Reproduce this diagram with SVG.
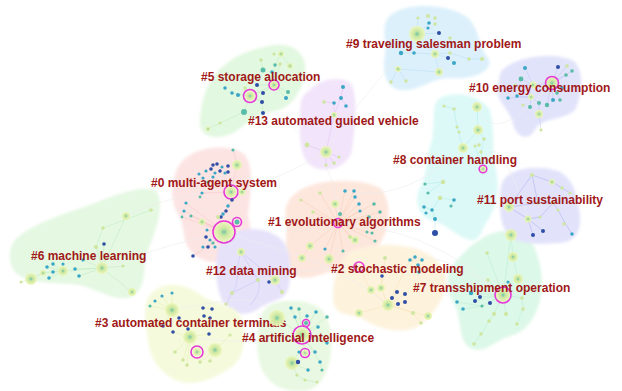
<svg xmlns="http://www.w3.org/2000/svg" width="622" height="391" viewBox="0 0 622 391">
<defs>
  <radialGradient id="yh">
    <stop offset="0" stop-color="#6fc3a6"/>
    <stop offset="0.35" stop-color="#c8e6a0"/>
    <stop offset="1" stop-color="#eef7b8" stop-opacity="0.9"/>
  </radialGradient>
  <filter id="soft" x="-10%" y="-10%" width="120%" height="120%">
    <feGaussianBlur stdDeviation="1.5"/>
  </filter>
  <style>
    .hull{filter:url(#soft)}
    .h{fill:url(#yh)}
    .t{fill:#3aa7c6}
    .b{fill:#2f4ea6}
    .g{fill:#58bca8}
    .y{fill:#cfe6a0}
    .m{fill:none;stroke:#e63ad6;stroke-width:1.6}
    .lbl{font-family:"Liberation Sans",Arial,sans-serif;font-weight:bold;font-size:12px;fill:#a01818}
    .e{fill:none;stroke-width:0.6;opacity:0.5}
    .bg{fill:none;stroke:#ececec;stroke-width:0.6}
  </style>
</defs>
<rect width="622" height="391" fill="#ffffff"/>

<!-- cluster hulls -->
<g id="hulls">
  <path class="hull" fill="#dcf0fb" d="M392 14C410 2 450 4 468 18C480 30 478 45 488 58C495 70 475 80 450 78C430 78 420 92 400 90C385 88 382 70 385 55C388 40 378 25 392 14Z"/>
  <path class="hull" fill="#e1e3fa" d="M505 68C520 55 560 52 575 62C585 75 582 95 575 110C565 120 540 118 535 130C528 142 515 138 512 120C508 108 495 100 498 88C500 78 498 72 505 68Z"/>
  <path class="hull" fill="#dcf9f7" d="M440 98C455 90 480 95 490 110C495 130 492 150 495 165C500 185 498 205 488 220C480 232 480 242 470 240C455 236 445 222 430 220C418 215 414 200 420 188C428 175 425 160 432 140C436 120 430 105 440 98Z"/>
  <path class="hull" fill="#f2e4fa" d="M310 90C320 78 345 75 352 85C358 100 355 130 352 150C348 168 325 175 310 165C298 155 300 130 300 115C300 100 302 95 310 90Z"/>
  <path class="hull" fill="#e2f8e0" d="M215 75C230 55 255 48 275 45C295 43 308 55 305 75C300 95 290 110 270 112C255 115 245 125 235 132C220 140 198 140 200 120C202 100 205 88 215 75Z"/>
  <path class="hull" fill="#fce4e3" d="M190 155C205 145 235 145 245 155C255 170 250 195 248 215C252 235 255 250 240 258C225 265 200 265 190 250C182 240 185 228 180 218C172 205 170 190 175 175C178 165 182 160 190 155Z"/>
  <path class="hull" fill="#fde7dd" d="M300 190C320 178 360 178 380 188C392 200 390 225 382 240C375 255 360 262 340 268C320 275 300 285 290 270C282 255 288 235 286 220C284 205 288 198 300 190Z"/>
  <path class="hull" fill="#e4f8e2" d="M15 240C30 225 60 215 90 205C115 195 140 185 155 190C165 200 158 225 150 245C140 262 150 280 135 295C120 305 100 290 80 285C55 282 30 285 15 272C8 262 8 250 15 240Z"/>
  <path class="hull" fill="#e6e2fa" d="M230 235C245 225 270 228 282 240C292 252 292 275 288 290C283 302 270 300 260 308C245 318 228 315 222 300C215 285 215 265 218 250C220 242 224 238 230 235Z"/>
  <path class="hull" fill="#fdf3dd" d="M350 252C370 243 400 243 420 250C440 258 450 272 445 290C440 305 430 320 415 328C400 333 380 330 365 320C350 312 335 318 333 300C332 285 338 260 350 252Z"/>
  <path class="hull" fill="#dcf8e8" d="M480 240C495 228 520 228 530 240C540 255 545 280 540 300C535 320 525 332 510 336C495 340 485 355 470 348C458 340 462 320 455 305C446 292 445 275 455 262C465 252 470 245 480 240Z"/>
  <path class="hull" fill="#e2e3fb" d="M505 178C515 166 545 165 560 172C575 180 578 200 580 215C582 230 575 242 560 243C545 244 530 245 515 240C502 232 500 218 500 205C500 192 500 184 505 178Z"/>
  <path class="hull" fill="#f6fadc" d="M155 290C170 280 190 285 205 298C220 305 238 305 242 320C246 340 245 358 230 368C215 378 195 388 175 380C160 372 150 360 148 340C146 320 140 300 155 290Z"/>
  <path class="hull" fill="#e8f8e2" d="M270 305C285 298 310 300 322 310C332 322 333 345 330 360C326 375 320 391 300 391C282 391 270 385 262 370C256 355 256 335 260 320C262 312 265 308 270 305Z"/>
</g>

<!-- links -->
<g id="connectors">
  <path class="bg" d="M250 96C300 130 340 160 338 223M224 232C280 250 330 260 388 305M172 310C230 300 260 290 277 318M102 268C150 250 190 240 224 232M231 192C280 180 310 160 326 152M417 34C380 80 350 110 326 152M552 83C520 120 490 140 477 107M503 295C470 270 430 250 410 260M338 223C400 230 440 240 503 295M463 148C430 180 390 200 345 191M190 337C240 345 270 340 302 335M528 219C510 160 490 130 483 169M258 280C300 270 330 268 359 267M126 216C160 200 190 195 202 193"/>
  <path class="e" stroke="#9fd0ee" d="M417 34L429 23M417 34L418 18M417 34L439 33M417 34L435 54M435 54L450 53M435 54L448 58M448 58L454 63M450 53L469 59M469 59L482 59M435 54L439 72M401 53L414 53M414 53L435 54M398 69L391 82M398 69L406 81M439 72L398 69"/>
  <path class="e" stroke="#a8b0ea" d="M552 83L558 67M552 83L567 66M552 83L572 71M552 83L566 75M552 83L533 85M533 85L525 68M533 85L521 79M533 85L515 85M531 97L517 96M531 97L508 98M531 97L539 103M552 83L547 105M552 83L553 100M552 83L560 100M552 83L562 88M539 103L539 114M539 114L541 130M531 97L530 107"/>
  <path class="e" stroke="#8fdedb" d="M477 107L478 130M478 130L484 139M478 130L463 148M463 148L457 127M457 127L454 109M454 109L444 106M484 139L481 152M481 152L483 169M483 169L475 146M443 182L425 184M443 182L428 193M440 198L454 200M454 200L451 206M440 198L432 210M432 210L424 207M432 210L435 219M435 219L435 233"/>
  <path class="e" stroke="#d7a8ea" d="M326 152L334 115M334 115L341 98M341 98L343 87M341 98L346 106M334 115L334 103M326 152L334 163M326 152L339 157M326 152L326 165M326 152L307 145M334 103L324 102"/>
  <path class="e" stroke="#a8e0a8" d="M250 96L274 85M274 85L275 65M274 85L280 64M274 85L272 72M274 85L288 92M274 85L286 98M274 85L263 93M274 85L257 85M250 96L238 95M250 96L232 93M250 96L244 112M244 112L220 123M220 123L208 129M250 96L262 102M262 102L263 113M275 65L281 54M281 54L290 66M263 70L261 60"/>
  <path class="e" stroke="#f3b0ad" d="M231 192L237 165M237 165L233 150M231 192L242 192M231 192L202 193M231 192L232 200M232 200L228 206M228 206L226 211M226 211L223 214M223 214L221 217M224 232L237 222M224 232L202 222M224 232L186 203M224 232L184 211M224 232L191 216M224 232L182 217M224 232L218 217M224 232L207 230M224 232L213 243M224 232L208 247M213 243L193 256M231 192L213 177"/>
  <path class="e" stroke="#f5b890" d="M338 223L335 204M338 223L345 191M338 223L354 191M338 223L355 197M338 223L359 204M338 223L374 204M338 223L380 212M338 223L360 211M338 223L369 217M338 223L340 214M338 223L320 193M338 223L301 200M338 223L313 212M338 223L355 240M338 223L350 237M338 223L310 246M338 223L329 259M338 223L325 249M338 223L343 251M338 223L367 232M338 223L375 241M310 246L302 258"/>
  <path class="e" stroke="#a8e0a8" d="M102 268L126 216M102 268L96 247M96 247L103 228M103 228L151 210M102 268L132 292M102 268L123 266M102 268L63 271M63 271L43 273M43 273L31 279M31 279L21 282M63 271L47 267M63 271L53 264M63 271L53 272M63 271L49 278M63 271L63 264M102 268L75 269M102 268L79 276M102 268L83 260M102 268L104 244"/>
  <path class="e" stroke="#b4a8ee" d="M241 252L258 280M258 280L232 293M232 293L226 304M241 252L275 280M275 280L282 292M275 280L269 282M241 252C235 270 240 285 232 293M258 280C262 290 255 300 250 305"/>
  <path class="e" stroke="#f0d49a" d="M388 305L371 290M388 305L381 288M388 305L359 313M388 305L428 316M388 305L413 313M413 313L421 323M388 305L397 292M388 305L405 294M388 305L392 298M388 305L405 302M388 305L398 304M381 288L385 258M381 288L382 276M388 305L410 260M410 260L415 257M410 260L422 260M410 260L418 265M418 265L419 272M371 290L359 267"/>
  <path class="e" stroke="#9ee4c0" d="M503 295L511 235M511 235L513 257M513 257L518 279M503 295L471 293M503 295L480 297M503 295L475 301M503 295L490 303M503 295L482 306M482 306L457 302M482 306L463 309M503 295L487 253M503 295L488 280M503 295L508 282M503 295L522 298M522 298L523 309M503 295L506 314M503 295L494 314M494 314L489 321M489 321L481 334M481 334L474 344M523 309L517 324"/>
  <path class="e" stroke="#7d86de" d="M509 207L532 175M532 175L552 182M552 182L562 188M562 188L570 193M509 207L528 219M528 219L533 235M528 219L543 231M509 207L538 203M538 203L553 203M553 203L558 210M558 210L565 223M565 223L572 234M528 219L540 217M540 217L553 203M532 175L538 203"/>
  <path class="e" stroke="#d8e890" d="M172 310L155 301M172 310L162 296M172 310L172 293M172 310L150 306M172 310L163 326M172 310L179 318M190 337L188 329M190 337L173 332M190 337L209 334M190 337L175 352M190 337L183 360M190 337L187 365M215 350L210 361M215 350L200 362M215 350L230 335M197 352L190 337M203 308L212 309M204 316L210 318"/>
  <path class="e" stroke="#a8e0a8" d="M302 335L277 318M302 335L306 323M302 335L305 353M302 335L291 308M302 335L295 317M302 335L299 309M302 335L307 316M302 335L316 312M302 335L327 317M302 335L318 327M302 335L327 343M302 335L315 352M302 335L320 362M292 363L308 370M292 363L298 362M292 363L299 352M292 363L297 375M297 375L305 380M305 380L317 382M320 362L322 370"/>
</g>

<!-- #9 traveling salesman problem -->
<g id="cluster-9">
  <circle class="h" cx="417" cy="34" r="8"/>
  <circle class="t" cx="429" cy="23" r="1.8"/><circle class="t" cx="428" cy="28" r="1.6"/>
  <circle class="b" cx="439" cy="33" r="2"/><circle class="y" cx="450" cy="38" r="1.8"/>
  <circle class="y" cx="418" cy="18" r="1.6"/><circle class="y" cx="428" cy="16" r="2"/>
  <circle class="y" cx="435" cy="18" r="1.8"/><circle class="y" cx="435" cy="24" r="1.8"/>
  <circle class="t" cx="401" cy="53" r="2.2"/><circle class="t" cx="414" cy="53" r="1.8"/>
  <circle class="h" cx="435" cy="54" r="4"/><circle class="y" cx="450" cy="53" r="1.8"/>
  <circle class="b" cx="448" cy="58" r="2"/><circle class="t" cx="454" cy="63" r="2"/>
  <circle class="y" cx="469" cy="59" r="1.8"/><circle class="y" cx="482" cy="59" r="2"/>
  <circle class="h" cx="439" cy="72" r="4"/><circle class="h" cx="398" cy="69" r="3"/>
  <circle class="y" cx="391" cy="82" r="1.8"/><circle class="y" cx="406" cy="81" r="1.8"/>
  <text class="lbl" x="346" y="48">#9 traveling salesman problem</text>
</g>

<!-- #10 energy consumption -->
<g id="cluster-10">
  <circle class="h" cx="552" cy="83" r="6"/><circle class="m" cx="552" cy="83" r="6.5"/>
  <circle class="b" cx="558" cy="67" r="2"/><circle class="y" cx="567" cy="66" r="1.8"/>
  <circle class="g" cx="572" cy="71" r="1.8"/><circle class="g" cx="566" cy="75" r="1.8"/>
  <circle class="t" cx="525" cy="68" r="2"/><circle class="g" cx="521" cy="79" r="2.4"/>
  <circle class="y" cx="515" cy="85" r="1.6"/><circle class="t" cx="508" cy="98" r="1.8"/>
  <circle class="t" cx="517" cy="96" r="1.8"/><circle class="h" cx="533" cy="85" r="3.5"/>
  <circle class="h" cx="531" cy="97" r="3"/><circle class="h" cx="539" cy="114" r="4"/>
  <circle class="g" cx="539" cy="103" r="2"/><circle class="g" cx="547" cy="105" r="2.2"/>
  <circle class="t" cx="553" cy="100" r="2"/><circle class="g" cx="560" cy="100" r="1.8"/>
  <circle class="g" cx="557" cy="93" r="1.8"/><circle class="t" cx="562" cy="88" r="1.8"/>
  <circle class="g" cx="530" cy="107" r="2"/><circle class="y" cx="523" cy="105" r="1.6"/>
  <circle class="y" cx="541" cy="130" r="1.6"/>
  <text class="lbl" x="469" y="92">#10 energy consumption</text>
</g>

<!-- #8 container handling -->
<g id="cluster-8">
  <circle class="h" cx="477" cy="107" r="5"/><circle class="h" cx="478" cy="130" r="5"/>
  <circle class="h" cx="463" cy="148" r="5"/><circle class="y" cx="484" cy="139" r="1.8"/>
  <circle class="y" cx="479" cy="145" r="1.8"/><circle class="y" cx="481" cy="152" r="1.8"/>
  <circle class="y" cx="475" cy="146" r="1.6"/><circle class="h" cx="483" cy="169" r="3"/>
  <circle class="m" cx="483" cy="169" r="3.8"/>
  <circle class="y" cx="454" cy="109" r="1.8"/><circle class="y" cx="444" cy="106" r="1.6"/>
  <circle class="y" cx="457" cy="127" r="1.6"/><circle class="y" cx="459" cy="132" r="1.6"/>
  <circle class="g" cx="425" cy="184" r="1.6"/><circle class="y" cx="443" cy="182" r="2.2"/>
  <circle class="g" cx="428" cy="193" r="1.6"/><circle class="y" cx="440" cy="198" r="2.2"/>
  <circle class="t" cx="454" cy="200" r="1.8"/><circle class="g" cx="451" cy="206" r="1.6"/>
  <circle class="t" cx="424" cy="207" r="1.8"/><circle class="t" cx="432" cy="210" r="1.8"/>
  <circle class="t" cx="426" cy="213" r="1.6"/><circle class="t" cx="435" cy="219" r="2"/>
  <circle class="b" cx="435" cy="233" r="3"/>
  <text class="lbl" x="393" y="164">#8 container handling</text>
</g>

<!-- #13 automated guided vehicle -->
<g id="cluster-13">
  <circle class="h" cx="326" cy="152" r="6"/><circle class="t" cx="343" cy="87" r="2"/>
  <circle class="t" cx="341" cy="98" r="2"/><circle class="t" cx="346" cy="106" r="1.8"/>
  <circle class="t" cx="334" cy="103" r="1.8"/><circle class="h" cx="334" cy="115" r="3"/>
  <circle class="y" cx="324" cy="102" r="1.8"/><circle class="y" cx="334" cy="163" r="1.8"/>
  <circle class="y" cx="339" cy="157" r="1.6"/><circle class="y" cx="326" cy="165" r="1.6"/>
  <circle class="y" cx="307" cy="145" r="2.4"/>
  <text class="lbl" x="248" y="125">#13 automated guided vehicle</text>
</g>

<!-- #5 storage allocation -->
<g id="cluster-5">
  <circle class="h" cx="250" cy="96" r="5"/><circle class="m" cx="250" cy="96" r="6.5"/>
  <circle class="h" cx="274" cy="85" r="4"/><circle class="m" cx="274" cy="85" r="5"/>
  <circle class="g" cx="244" cy="112" r="3"/><circle class="b" cx="263" cy="93" r="2"/>
  <circle class="b" cx="262" cy="102" r="2"/><circle class="b" cx="263" cy="113" r="2"/>
  <circle class="b" cx="257" cy="85" r="2"/><circle class="g" cx="275" cy="65" r="1.8"/>
  <circle class="y" cx="280" cy="64" r="1.8"/><circle class="t" cx="272" cy="72" r="1.8"/>
  <circle class="g" cx="288" cy="92" r="2"/><circle class="t" cx="286" cy="98" r="2"/>
  <circle class="t" cx="238" cy="95" r="2"/><circle class="t" cx="232" cy="93" r="1.8"/>
  <circle class="t" cx="225" cy="88" r="1.8"/><circle class="y" cx="245" cy="88" r="1.8"/>
  <circle class="h" cx="281" cy="54" r="3"/><circle class="h" cx="290" cy="66" r="3"/>
  <circle class="g" cx="263" cy="70" r="2.5"/><circle class="y" cx="261" cy="60" r="1.8"/>
  <circle class="y" cx="274" cy="54" r="1.6"/><circle class="h" cx="208" cy="129" r="2.5"/>
  <circle class="y" cx="220" cy="123" r="1.6"/>
  <text class="lbl" x="201" y="81">#5 storage allocation</text>
</g>

<!-- #0 multi-agent system -->
<g id="cluster-0">
  <circle class="h" cx="237" cy="165" r="5"/><circle class="g" cx="233" cy="150" r="1.6"/>
  <circle class="b" cx="213" cy="165" r="1.8"/><circle class="b" cx="217" cy="164" r="1.8"/>
  <circle class="t" cx="222" cy="167" r="1.6"/><circle class="b" cx="228" cy="166" r="1.8"/>
  <circle class="t" cx="206" cy="171" r="1.6"/><circle class="b" cx="211" cy="169" r="1.8"/>
  <circle class="t" cx="215" cy="173" r="1.6"/><circle class="b" cx="220" cy="171" r="1.8"/>
  <circle class="t" cx="225" cy="173" r="1.6"/><circle class="b" cx="228" cy="172" r="1.8"/>
  <circle class="t" cx="199" cy="174" r="1.6"/><circle class="t" cx="203" cy="178" r="1.6"/>
  <circle class="g" cx="208" cy="182" r="1.6"/><circle class="t" cx="213" cy="177" r="1.6"/>
  <circle class="h" cx="231" cy="192" r="5.5"/><circle class="m" cx="231" cy="192" r="7"/>
  <circle class="h" cx="242" cy="192" r="3.5"/>
  <circle class="t" cx="202" cy="193" r="1.6"/><circle class="g" cx="200" cy="197" r="1.4"/>
  <circle class="b" cx="232" cy="200" r="1.8"/><circle class="t" cx="228" cy="206" r="1.8"/>
  <circle class="b" cx="226" cy="211" r="1.8"/><circle class="t" cx="223" cy="214" r="1.8"/>
  <circle class="b" cx="221" cy="217" r="1.8"/>
  <circle class="t" cx="186" cy="203" r="1.6"/><circle class="t" cx="184" cy="211" r="1.6"/>
  <circle class="g" cx="191" cy="216" r="1.6"/><circle class="g" cx="182" cy="217" r="1.4"/>
  <circle class="h" cx="202" cy="222" r="3.5"/><circle class="y" cx="218" cy="217" r="2"/>
  <circle class="g" cx="237" cy="222" r="2.5"/><circle class="m" cx="237" cy="222" r="4.5"/>
  <circle class="h" cx="224" cy="232" r="10"/><circle class="m" cx="224" cy="232" r="11"/>
  <circle class="t" cx="207" cy="230" r="1.6"/><circle class="b" cx="206" cy="237" r="1.8"/>
  <circle class="t" cx="210" cy="240" r="1.6"/><circle class="g" cx="213" cy="243" r="1.6"/>
  <circle class="b" cx="208" cy="247" r="1.8"/><circle class="t" cx="203" cy="247" r="1.6"/>
  <circle class="t" cx="215" cy="247" r="1.6"/><circle class="b" cx="193" cy="256" r="1.8"/>
  <text class="lbl" x="151" y="187">#0 multi-agent system</text>
</g>

<!-- #11 port sustainability -->
<g id="cluster-11">
  <circle class="y" cx="532" cy="175" r="2"/><circle class="h" cx="552" cy="182" r="3"/>
  <circle class="y" cx="562" cy="188" r="1.8"/><circle class="y" cx="570" cy="193" r="1.6"/>
  <circle class="h" cx="509" cy="207" r="5"/><circle class="h" cx="528" cy="219" r="3.5"/>
  <circle class="b" cx="533" cy="235" r="2"/><circle class="b" cx="543" cy="231" r="2"/>
  <circle class="t" cx="572" cy="234" r="1.8"/><circle class="y" cx="564" cy="224" r="1.8"/>
  <circle class="y" cx="540" cy="217" r="1.6"/><circle class="y" cx="538" cy="203" r="1.8"/>
  <circle class="y" cx="553" cy="203" r="1.8"/><circle class="y" cx="558" cy="210" r="1.6"/>
  <text class="lbl" x="477" y="204">#11 port sustainability</text>
</g>

<!-- #1 evolutionary algorithms -->
<g id="cluster-1">
  <circle class="h" cx="335" cy="204" r="4"/><circle class="h" cx="329" cy="259" r="5"/>
  <circle class="h" cx="310" cy="246" r="4"/><circle class="h" cx="302" cy="258" r="4"/>
  <circle class="h" cx="355" cy="240" r="4"/><circle class="y" cx="350" cy="237" r="2"/>
  <circle class="t" cx="345" cy="191" r="1.8"/><circle class="t" cx="354" cy="191" r="1.8"/>
  <circle class="t" cx="355" cy="197" r="1.8"/><circle class="t" cx="359" cy="204" r="1.8"/>
  <circle class="g" cx="374" cy="204" r="1.8"/><circle class="g" cx="380" cy="212" r="1.8"/>
  <circle class="t" cx="360" cy="211" r="1.6"/><circle class="g" cx="369" cy="217" r="1.8"/>
  <circle class="g" cx="340" cy="214" r="2"/><circle class="t" cx="325" cy="249" r="1.6"/>
  <circle class="g" cx="343" cy="251" r="1.6"/><circle class="g" cx="367" cy="232" r="1.6"/>
  <circle class="g" cx="375" cy="241" r="1.6"/><circle class="g" cx="372" cy="233" r="1.6"/>
  <circle class="y" cx="320" cy="193" r="1.8"/><circle class="y" cx="301" cy="200" r="1.6"/>
  <circle class="y" cx="313" cy="212" r="1.8"/>
  <circle class="m" cx="338" cy="223" r="4.5"/>
  <text class="lbl" x="268" y="226">#1 evolutionary algorithms</text>
</g>

<!-- #6 machine learning -->
<g id="cluster-6">
  <circle class="h" cx="102" cy="268" r="6"/><circle class="h" cx="63" cy="271" r="5"/>
  <circle class="h" cx="31" cy="279" r="6"/><circle class="h" cx="43" cy="273" r="3"/>
  <circle class="h" cx="126" cy="216" r="4"/><circle class="h" cx="132" cy="292" r="4"/>
  <circle class="y" cx="96" cy="247" r="2"/><circle class="y" cx="103" cy="228" r="1.8"/>
  <circle class="y" cx="151" cy="210" r="1.8"/>
  <circle class="t" cx="47" cy="267" r="1.8"/><circle class="t" cx="53" cy="264" r="1.8"/>
  <circle class="t" cx="53" cy="272" r="1.8"/><circle class="t" cx="49" cy="278" r="1.8"/>
  <circle class="t" cx="63" cy="264" r="1.6"/><circle class="t" cx="75" cy="269" r="1.8"/>
  <circle class="t" cx="79" cy="276" r="1.8"/><circle class="t" cx="83" cy="260" r="1.6"/>
  <circle class="b" cx="104" cy="244" r="1.8"/><circle class="y" cx="21" cy="282" r="1.6"/>
  <circle class="y" cx="123" cy="266" r="1.6"/>
  <text class="lbl" x="31" y="260">#6 machine learning</text>
</g>

<!-- #12 data mining -->
<g id="cluster-12">
  <circle class="h" cx="241" cy="252" r="4"/><circle class="h" cx="275" cy="280" r="5"/>
  <circle class="y" cx="258" cy="280" r="2"/><circle class="y" cx="232" cy="293" r="2"/>
  <circle class="y" cx="282" cy="292" r="2"/><circle class="y" cx="226" cy="304" r="1.6"/>
  <circle class="b" cx="269" cy="282" r="1.8"/>
  <text class="lbl" x="206" y="275">#12 data mining</text>
</g>

<!-- #2 stochastic modeling -->
<g id="cluster-2">
  <circle class="m" cx="359" cy="267" r="5"/>
  <circle class="h" cx="388" cy="305" r="6"/><circle class="h" cx="371" cy="290" r="4"/>
  <circle class="h" cx="381" cy="288" r="4"/><circle class="h" cx="359" cy="313" r="4"/>
  <circle class="h" cx="428" cy="316" r="4"/><circle class="y" cx="413" cy="313" r="2"/>
  <circle class="y" cx="421" cy="323" r="1.8"/>
  <circle class="b" cx="397" cy="292" r="2"/><circle class="b" cx="405" cy="294" r="2"/>
  <circle class="b" cx="392" cy="298" r="2"/><circle class="b" cx="405" cy="302" r="2"/>
  <circle class="b" cx="398" cy="304" r="2"/>
  <circle class="t" cx="410" cy="260" r="1.8"/><circle class="t" cx="415" cy="257" r="1.8"/>
  <circle class="t" cx="422" cy="260" r="1.8"/><circle class="t" cx="418" cy="265" r="1.8"/>
  <circle class="t" cx="419" cy="272" r="1.8"/><circle class="y" cx="385" cy="258" r="2"/>
  <circle class="b" cx="382" cy="276" r="1.8"/>
  <text class="lbl" x="331" y="273">#2 stochastic modeling</text>
</g>

<!-- #7 transshipment operation -->
<g id="cluster-7">
  <circle class="h" cx="511" cy="235" r="6"/><circle class="h" cx="513" cy="257" r="5"/>
  <circle class="h" cx="518" cy="279" r="5"/>
  <circle class="h" cx="503" cy="295" r="7"/><circle class="m" cx="503" cy="295" r="8"/>
  <circle class="t" cx="471" cy="293" r="2.2"/><circle class="b" cx="480" cy="297" r="2"/>
  <circle class="b" cx="475" cy="301" r="2"/><circle class="b" cx="490" cy="303" r="2"/>
  <circle class="g" cx="482" cy="306" r="1.6"/><circle class="t" cx="457" cy="302" r="1.8"/>
  <circle class="t" cx="463" cy="309" r="1.8"/><circle class="y" cx="487" cy="253" r="1.8"/>
  <circle class="y" cx="488" cy="280" r="1.8"/><circle class="t" cx="508" cy="282" r="1.6"/>
  <circle class="y" cx="522" cy="298" r="1.8"/><circle class="y" cx="523" cy="309" r="1.8"/>
  <circle class="y" cx="506" cy="314" r="2"/><circle class="y" cx="494" cy="314" r="2"/>
  <circle class="y" cx="489" cy="321" r="1.8"/><circle class="y" cx="517" cy="324" r="1.8"/>
  <circle class="y" cx="481" cy="334" r="1.8"/><circle class="y" cx="474" cy="344" r="1.8"/>
  <text class="lbl" x="413" y="292">#7 transshipment operation</text>
</g>

<!-- #3 automated container terminals -->
<g id="cluster-3">
  <circle class="h" cx="172" cy="310" r="7"/><circle class="h" cx="190" cy="337" r="7"/>
  <circle class="h" cx="215" cy="350" r="7"/>
  <circle class="h" cx="197" cy="352" r="4"/><circle class="m" cx="197" cy="352" r="6"/>
  <circle class="b" cx="203" cy="308" r="1.8"/><circle class="b" cx="212" cy="309" r="1.8"/>
  <circle class="b" cx="204" cy="316" r="1.8"/><circle class="b" cx="210" cy="318" r="1.8"/>
  <circle class="b" cx="188" cy="329" r="1.8"/><circle class="b" cx="173" cy="332" r="1.8"/>
  <circle class="b" cx="163" cy="326" r="1.8"/><circle class="b" cx="179" cy="318" r="1.8"/>
  <circle class="b" cx="209" cy="334" r="1.8"/>
  <circle class="t" cx="155" cy="301" r="1.6"/><circle class="t" cx="162" cy="296" r="1.6"/>
  <circle class="t" cx="172" cy="293" r="1.6"/><circle class="g" cx="150" cy="306" r="1.6"/>
  <circle class="y" cx="175" cy="352" r="1.8"/><circle class="y" cx="183" cy="360" r="1.8"/>
  <circle class="y" cx="210" cy="361" r="1.8"/><circle class="y" cx="200" cy="362" r="1.8"/>
  <circle class="y" cx="187" cy="365" r="1.8"/><circle class="y" cx="230" cy="335" r="1.6"/>
  <text class="lbl" x="95" y="327">#3 automated container terminals</text>
</g>

<!-- #4 artificial intelligence -->
<g id="cluster-4">
  <circle class="h" cx="277" cy="318" r="8"/><circle class="h" cx="292" cy="363" r="7"/>
  <circle class="h" cx="302" cy="335" r="7"/><circle class="m" cx="302" cy="335" r="9"/>
  <circle class="g" cx="306" cy="323" r="2"/><circle class="m" cx="306" cy="323" r="3.5"/>
  <circle class="h" cx="305" cy="353" r="3"/><circle class="m" cx="305" cy="353" r="4.5"/>
  <circle class="t" cx="291" cy="308" r="1.8"/><circle class="t" cx="295" cy="317" r="1.8"/>
  <circle class="g" cx="299" cy="309" r="1.8"/><circle class="t" cx="307" cy="316" r="1.8"/>
  <circle class="t" cx="316" cy="312" r="1.8"/><circle class="g" cx="327" cy="317" r="1.8"/>
  <circle class="t" cx="318" cy="327" r="1.8"/><circle class="t" cx="327" cy="343" r="1.8"/>
  <circle class="t" cx="315" cy="352" r="1.8"/><circle class="t" cx="320" cy="362" r="1.8"/>
  <circle class="t" cx="308" cy="370" r="1.8"/><circle class="b" cx="298" cy="362" r="2.2"/>
  <circle class="t" cx="299" cy="352" r="1.6"/><circle class="g" cx="322" cy="370" r="1.6"/>
  <circle class="y" cx="297" cy="375" r="1.6"/><circle class="y" cx="305" cy="380" r="1.6"/>
  <circle class="y" cx="317" cy="382" r="1.6"/>
  <text class="lbl" x="242" y="342">#4 artificial intelligence</text>
</g>
</svg>
